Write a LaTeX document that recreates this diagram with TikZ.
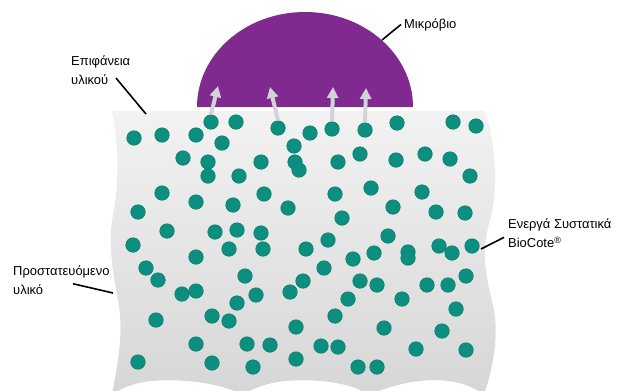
\documentclass[tikz,border=0pt]{standalone}
\usepackage{fontspec}
\setmainfont{Liberation Sans}
\usetikzlibrary{arrows.meta}

\definecolor{microbepurple}{HTML}{80298F}
\definecolor{agentteal}{HTML}{0C8F7F}
\definecolor{agentedge}{HTML}{0A7F71}
\definecolor{flowgray}{HTML}{D2D3D5}

\begin{document}
\begin{tikzpicture}[
    x=1bp, y=-1bp,
    dot/.style={circle, fill=agentteal, draw=agentedge, line width=0.6bp,
                inner sep=0pt, minimum size=14.5bp},
    label/.style={font=\fontsize{13}{18.5}\selectfont, align=left,
                  inner sep=0pt},
    leader/.style={line width=1.6bp, black},
    flow/.style={flowgray, line width=4bp,
                 -{Triangle[width=11bp,length=11bp]}}
]
    \useasboundingbox (0,0) rectangle (624,390);

    % microbe on top
    \fill[microbepurple] (197,107) arc[start angle=180, end angle=360,
        x radius=108, y radius=95] -- cycle;

    % protected material
    \begin{scope}
    \clip (0,0) rectangle (624,390);
    \shade[top color=black!5, bottom color=black!16]
        (112,111) -- (485,111)
        .. controls (495,140) and (499,190) .. (490,220)
        .. controls (480,255) and (486,275) .. (494,310)
        .. controls (499,340) and (492,370) .. (484,395)
        .. controls (470,383) and (445,378) .. (420,381)
        .. controls (400,383) and (380,390) .. (368,395)
        .. controls (355,384) and (320,378) .. (285,381)
        .. controls (265,383) and (250,390) .. (243,395)
        .. controls (225,385) and (190,378) .. (150,381)
        .. controls (135,383) and (120,388) .. (112,395)
        .. controls (118,360) and (124,335) .. (118,300)
        .. controls (112,270) and (108,240) .. (113,215)
        .. controls (120,180) and (118,140) .. (112,111) -- cycle;
    \end{scope}

    % active agents
    \foreach \px/\py [count=\i] in {211/122, 278/128, 332/129, 365/130,
        236/122, 134/138, 162/135, 196/135, 222/143, 310/133, 397/123,
        453/122, 476/126, 294/146, 183/158, 208/162, 208/176, 261/162,
        295/162, 299/170, 338/162, 360/154, 396/160, 425/154, 450/159,
        470/176, 239/176, 162/193, 196/202, 233/205, 264/194, 288/208,
        335/194, 371/188, 422/192, 138/212, 342/218, 393/207, 436/212,
        465/213, 167/231, 215/232, 237/230, 261/233, 133/245, 229/249,
        263/249, 306/249, 328/240, 388/236, 439/246, 472/246, 452/253,
        408/252, 408/258, 374/253, 353/259, 196/257, 146/268, 158/280,
        245/276, 324/268, 303/281, 360/281, 377/285, 427/285, 448/285,
        466/276, 182/294, 196/291, 256/295, 290/292, 237/303, 348/299,
        402/299, 456/309, 156/320, 212/316, 229/321, 335/316, 296/327,
        384/328, 442/331, 196/344, 247/344, 270/345, 321/346, 338/347,
        416/349, 466/350, 138/362, 212/363, 253/367, 296/359, 358/367,
        377/367}
        \node[dot] (d\i) at (\px,\py) {};

    % agents acting on the microbe
    \coordinate (t1) at (218,86);
    \coordinate (t2) at (270,87);
    \coordinate (t3) at (333,87);
    \coordinate (t4) at (366,88);
    \foreach \i in {1,...,4}
        \draw[flow] (d\i.north) -- (t\i);

    % labels
    \node[label, anchor=base west] (microbe) at (404,28) {Μικρόβιο};
    \node[label, anchor=north west] (surface) at (71,56)
        {Επιφάνεια\\υλικού};
    \node[label, anchor=north west] (material) at (13,266)
        {Προστατευόμενο\\υλικό};
    \node[label, anchor=north west] (agents) at (508,219)
        {Ενεργά Συστατικά\\BioCote\textsuperscript{®}};

    \coordinate (microbe end) at (382,40);
    \coordinate (surface end) at (146,114);
    \coordinate (material end) at (113,293);
    \coordinate (agents end) at (481,249);
    \draw[leader] (microbe.west) ++(-3,0) -- (microbe end);
    \draw[leader] (surface.north west) ++(45,22) -- (surface end);
    \draw[leader] (material.south west) ++(60,-11) -- (material end);
    \draw[leader] (agents.west) ++(-4,4) -- (agents end);
\end{tikzpicture}
\end{document}
